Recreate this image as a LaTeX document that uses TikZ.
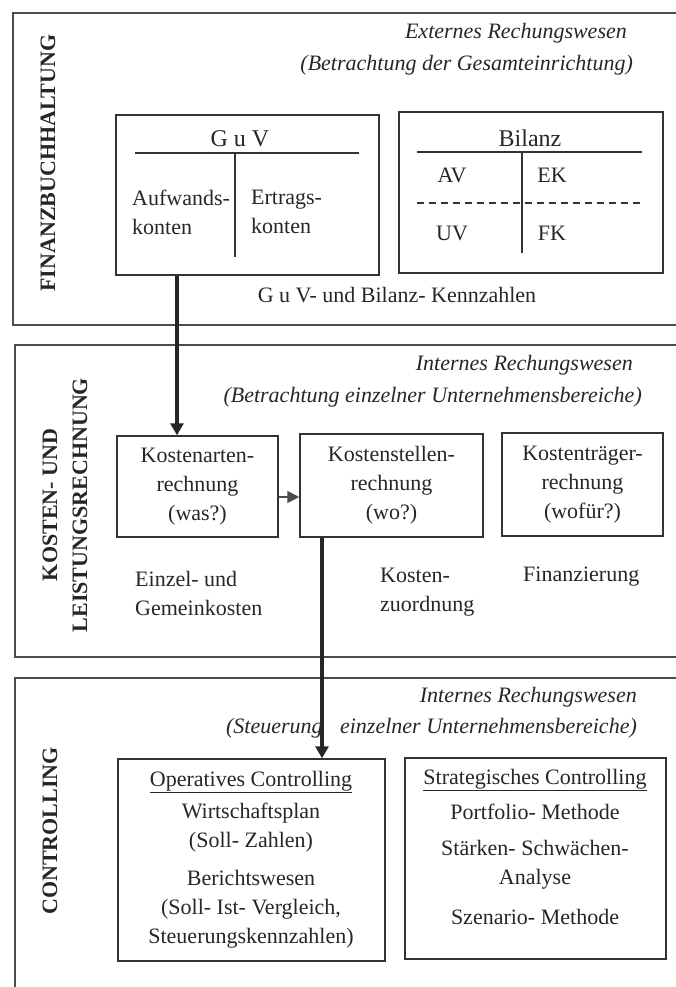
\documentclass[tikz,border=0pt]{standalone}
\usepackage{fontspec}
\setmainfont{Liberation Serif}
\usetikzlibrary{arrows.meta}

\begin{document}
\begin{tikzpicture}[x=1pt,y=-1pt,
    every node/.style={inner sep=0pt, text=black!85, font=\fontsize{22}{29}\selectfont},
    frame/.style={draw=black!70, line width=1.6pt},
    box/.style={draw=black!80, line width=1.5pt, align=center},
    rule/.style={draw=black!80, line width=1.3pt},
    head/.style={font=\fontsize{24}{29}\selectfont},
    title/.style={anchor=east, font=\fontsize{22}{29}\selectfont\itshape},
    side/.style={rotate=90, align=center, font=\fontsize{22}{30}\selectfont\bfseries},
    flow/.style={draw=black!85, line width=3.4pt, -{Triangle[length=12pt,width=13pt]}},
    link/.style={draw=black!70, line width=1.8pt, -{Triangle[length=12pt,width=12pt]}},
  ]
  \useasboundingbox (0,0) rectangle (676,987);

  % Finanzbuchhaltung
  \draw[frame] (676,13) -| (13,325) -- (676,325);
  \node[side] (fibu) at (48,163) {FINANZBUCHHALTUNG};
  \node[title] (ext1) at (627,33) {Externes Rechungswesen};
  \node[title] (ext2) at (633,65) {(Betrachtung der Gesamteinrichtung)};

  \node[box, minimum width=263pt, minimum height=160pt] (guv) at (247.5,195) {};
  \node[head] (guvt) at (240,139) {G u V};
  \draw[rule] (135,153) -- (359,153);
  \draw[rule] (235,153) -- (235,257);
  \node[anchor=west, align=left] (aufw) at (132,212) {Aufwands-\\konten};
  \node[anchor=west, align=left] (ertr) at (251,212) {Ertrags-\\konten};

  \node[box, minimum width=264pt, minimum height=161pt] (bil) at (531,192.5) {};
  \node[head] (bilt) at (530,138) {Bilanz};
  \draw[rule] (417,152) -- (642,152);
  \draw[rule] (522,152) -- (522,253);
  \draw[rule, dash pattern=on 7pt off 5pt] (417,203) -- (642,203);
  \node (av) at (452,175) {AV};
  \node (ek) at (552,175) {EK};
  \node (uv) at (452,233) {UV};
  \node (fk) at (552,233) {FK};
  \node (kz) at (397,295) {G u V- und Bilanz- Kennzahlen};

  % Kosten- und Leistungsrechnung
  \draw[frame] (676,345) -| (15,657) -- (676,657);
  \node[side] (klr) at (65,505) {KOSTEN- UND\\LEISTUNGSRECHNUNG};
  \node[title] (int1) at (633,365) {Internes Rechungswesen};
  \node[title] (int2) at (642,397) {(Betrachtung einzelner Unternehmensbereiche)};

  \node[box, minimum width=161pt, minimum height=101pt] (kart) at (197.5,486.5)
    {Kostenarten-\\rechnung\\(was?)};
  \node[box, minimum width=183pt, minimum height=103pt] (kst) at (391.5,485.5)
    {Kostenstellen-\\rechnung\\(wo?)};
  \node[box, minimum width=161pt, minimum height=103pt] (ktr) at (582.5,484.5)
    {Kostenträger-\\rechnung\\(wofür?)};
  \node[anchor=west, align=left] (ekgk) at (135,593) {Einzel- und\\Gemeinkosten};
  \node[anchor=west, align=left] (kzu) at (380,592) {Kosten-\\zuordnung};
  \node[anchor=west] (fin) at (523,577) {Finanzierung};

  % Controlling
  \draw[frame] (676,678) -| (15,987);
  \node[side] (ctrl) at (50,831) {CONTROLLING};
  \node[title] (int3) at (637,697) {Internes Rechungswesen};
  \node[title] (int4) at (637,728) {(Steuerung\hspace{12pt} einzelner Unternehmensbereiche)};

  \node[box, minimum width=267pt, minimum height=202pt] (opc) at (251.5,860) {};
  \node (opct) at (251,782) {\underline{Operatives Controlling}};
  \node[align=center] (wp) at (251,828) {Wirtschaftsplan\\(Soll- Zahlen)};
  \node[align=center] (bw) at (251,909) {Berichtswesen\\(Soll- Ist- Vergleich,\\Steuerungskennzahlen)};

  \node[box, minimum width=261pt, minimum height=201pt] (stc) at (535.5,858.5) {};
  \node (stct) at (535,780) {\underline{Strategisches Controlling}};
  \node (pf) at (535,812) {Portfolio- Methode};
  \node[align=center] (swa) at (535,865) {Stärken- Schwächen-\\Analyse};
  \node (sz) at (535,917) {Szenario- Methode};

  % Pfeile
  \coordinate (x1) at (177,0);
  \coordinate (x2) at (322,0);
  \coordinate (y1) at (0,497);
  \draw[flow] (guv.south -| x1) -- (kart.north -| x1);
  \draw[link] (kart.east |- y1) -- (kst.west |- y1);
  \draw[flow] (kst.south -| x2) -- (opc.north -| x2);
\end{tikzpicture}
\end{document}
